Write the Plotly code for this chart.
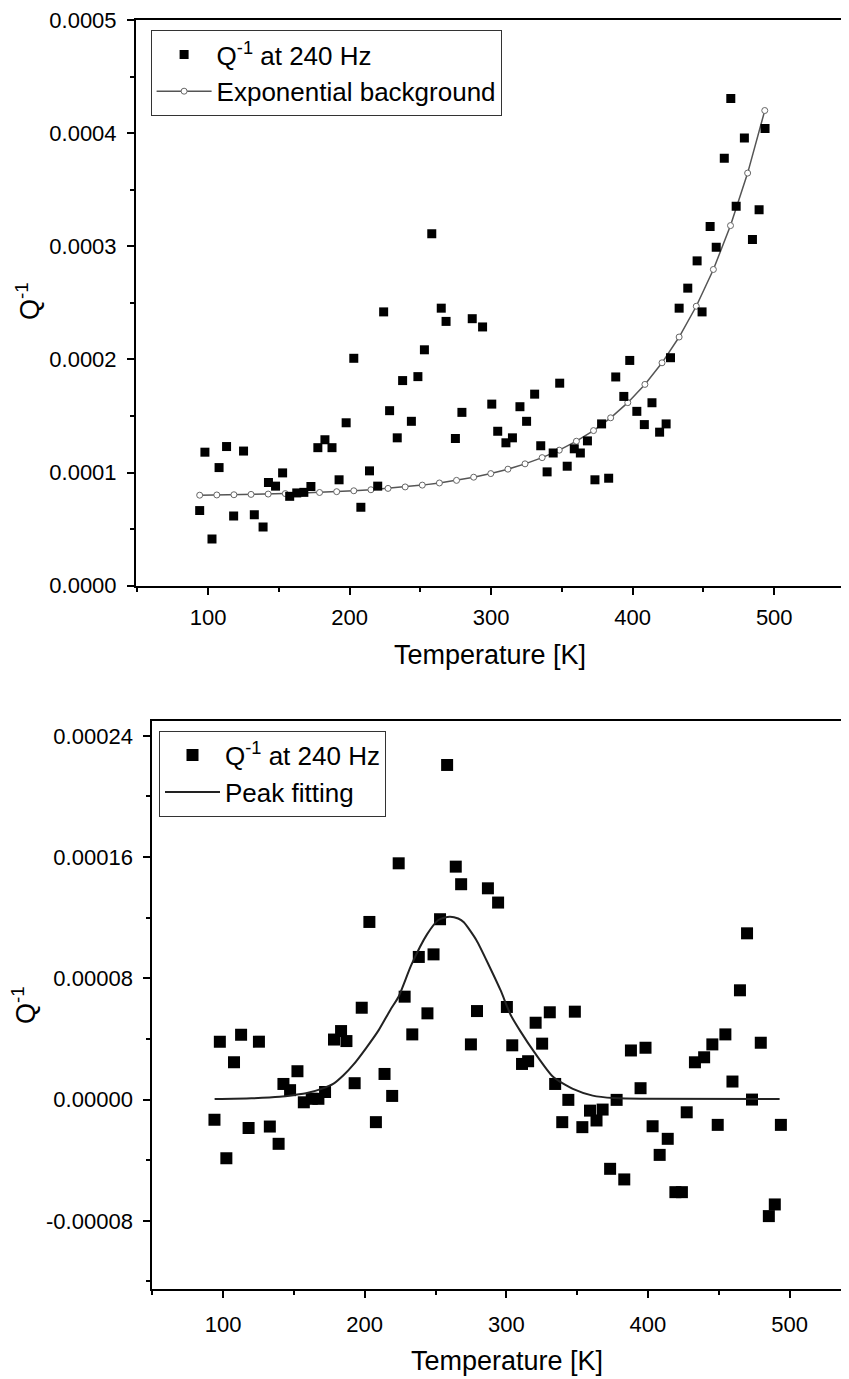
import plotly.graph_objects as go

# ---------------- Top panel data (Q^-1 in units of 1e-4) ----------------
top_T = [94, 97.7, 102.7, 107.7, 113, 118, 125, 132.6, 138.8, 142.6,
         147.6, 152.6, 157.6, 162.6, 167.6, 172.6, 177.5, 182.5, 187.5, 192.5,
         197.5, 202.9, 207.9, 214, 219.8, 224, 228.2, 233.6, 237.4, 243.6,
         248.2, 252.8, 258, 264.7, 268.1, 274.7, 279.3, 286.6, 293.9, 300.4,
         304.6, 310.4, 315, 320.3, 325, 330.7, 335, 339.5, 343.8, 348.4,
         353.7, 358.7, 363, 368, 373.3, 378, 383, 388, 393.7, 397.9,
         402.9, 408.2, 413.6, 419, 423.6, 426.7, 432.8, 438.9, 445.5, 449,
         454.7, 459, 464.7, 469.3, 473.1, 478.9, 484.6, 489.3, 493.5]
top_Q_e4 = [0.664, 1.18, 0.412, 1.044, 1.23, 0.617, 1.19, 0.626, 0.518, 0.912,
            0.88, 0.997, 0.79, 0.82, 0.825, 0.877, 1.22, 1.29, 1.22, 0.936,
            1.44, 2.01, 0.693, 1.015, 0.88, 2.42, 1.547, 1.307, 1.813, 1.453,
            1.848, 2.085, 3.11, 2.453, 2.336, 1.301, 1.532, 2.36, 2.287, 1.605,
            1.365, 1.263, 1.307, 1.582, 1.453, 1.693, 1.237, 1.006, 1.173, 1.79,
            1.056, 1.21, 1.173, 1.28, 0.936, 1.43, 0.95, 1.845, 1.673, 1.991,
            1.541, 1.424, 1.617, 1.357, 1.43, 2.015, 2.453, 2.63, 2.871, 2.42,
            3.175, 2.991, 3.778, 4.307, 3.354, 3.956, 3.061, 3.322, 4.04]

# Exponential background (read at each open circle, units 1e-4)
bg_T = [94.0, 106.1, 118.2, 130.3, 142.4, 154.5, 166.6, 178.7, 190.8, 202.9,
        215.0, 227.1, 239.2, 251.3, 263.4, 275.5, 287.6, 299.7, 311.8, 323.9,
        336.0, 348.1, 360.2, 372.3, 384.4, 396.5, 408.6, 420.7, 432.8, 444.9,
        457.0, 469.1, 481.2, 493.3]
bg_Q_e4 = [0.800, 0.802, 0.804, 0.807, 0.810, 0.814, 0.819, 0.824, 0.831, 0.839,
           0.848, 0.860, 0.873, 0.889, 0.908, 0.931, 0.959, 0.991, 1.030, 1.077,
           1.132, 1.198, 1.277, 1.371, 1.484, 1.618, 1.779, 1.970, 2.198, 2.470,
           2.795, 3.183, 3.647, 4.200]

# ---------------- Bottom panel data (Q^-1 in units of 1e-5) ----------------
bot_T = [93.9, 97.7, 102.3, 107.7, 112.7, 118, 125.3, 133, 139.2, 142.6,
         147.3, 152.5, 157, 162.6, 167.3, 172, 178.3, 183.3, 187.1, 192.9,
         197.9, 203.3, 207.9, 214, 219.4, 224, 228.2, 233.6, 238.2, 244.3,
         248.6, 253.2, 258.2, 264.3, 268.1, 275, 279.3, 287, 294.2, 300.4,
         304.2, 311.1, 315.4, 320.7, 325.3, 330.7, 334.5, 339.5, 343.8, 348.4,
         353.7, 359.1, 363.7, 368, 373.3, 377.9, 383.3, 388, 394.8, 398.3,
         403.3, 408.3, 414, 419.4, 424, 427.4, 433.2, 439.7, 445.5, 449.3,
         454.7, 459.7, 465, 470, 473.5, 479.7, 485.4, 489.6, 493.9]
bot_Q_e5 = [-1.34, 3.82, -3.87, 2.46, 4.27, -1.87, 3.82, -1.78, -2.92, 1.03,
            0.62, 1.87, -0.18, 0.05, 0.05, 0.5, 3.96, 4.52, 3.86, 1.08,
            6.06, 11.72, -1.49, 1.69, 0.24, 15.59, 6.79, 4.3, 9.41, 5.69,
            9.58, 11.9, 22.08, 15.37, 14.21, 3.64, 5.84, 13.94, 13.0, 6.11,
            3.58, 2.35, 2.53, 5.07, 3.69, 5.76, 1.03, -1.49, -0.02, 5.8,
            -1.82, -0.73, -1.38, -0.66, -4.57, -0.02, -5.27, 3.24, 0.75, 3.42,
            -1.76, -3.65, -2.59, -6.11, -6.11, -0.84, 2.46, 2.79, 3.64, -1.67,
            4.3, 1.19, 7.21, 10.97, 0.0, 3.75, -7.69, -6.92, -1.67]

# Peak fitting curve (units 1e-5)
fit_T = [94, 120, 140, 150, 160, 170, 178, 185, 192, 201,
         210, 218, 224, 233, 244, 252, 260, 266, 270, 279,
         288, 296, 303, 310, 320, 333, 347, 361, 376, 400, 493]
fit_Q_e5 = [0.03, 0.08, 0.18, 0.3, 0.45, 0.72, 1.05, 1.6, 2.3, 3.4,
            4.6, 5.9, 6.8, 8.9, 10.9, 11.85, 12.07, 11.95, 11.7, 10.5,
            8.8, 7.2, 5.6, 4.5, 3.1, 1.5, 0.7, 0.26, 0.1, 0.05, 0.03]

# Tick labels
top_y_ticks = [0.0, 0.0001, 0.0002, 0.0003, 0.0004, 0.0005]
top_y_labels = ["0.0000", "0.0001", "0.0002", "0.0003", "0.0004", "0.0005"]
bot_y_ticks = [-0.00008, 0.0, 0.00008, 0.00016, 0.00024]
bot_y_labels = ["-0.00008", "0.00000", "0.00008", "0.00016", "0.00024"]
x_ticks = [100, 200, 300, 400, 500]
x_labels = ["100", "200", "300", "400", "500"]

top_Q = [v * 1e-4 for v in top_Q_e4]
bg_Q = [v * 1e-4 for v in bg_Q_e4]
bot_Q = [v * 1e-5 for v in bot_Q_e5]
fit_Q = [v * 1e-5 for v in fit_Q_e5]

FONT = "Liberation Sans, Arial, sans-serif"
# the page body has an 8 px margin, so the figure starts at (8, 8) in the window
OFF = 8
W, H = 849 - OFF, 1379 - OFF


def px_x(p):
    return (p - OFF) / W


def px_y(p):
    return 1 - (p - OFF) / H


fig = go.Figure()

fig.add_trace(go.Scatter(
    x=bg_T, y=bg_Q, mode="lines+markers", name="Exponential background",
    line=dict(color="#555555", width=1.5),
    marker=dict(symbol="circle", size=6, color="white",
                line=dict(color="#666666", width=1)),
    xaxis="x", yaxis="y", legend="legend", legendrank=2))
fig.add_trace(go.Scatter(
    x=top_T, y=top_Q, mode="markers", name="Q<sup>-1</sup> at 240 Hz",
    marker=dict(symbol="square", size=9, color="black"),
    xaxis="x", yaxis="y", legend="legend", legendrank=1))

fig.add_trace(go.Scatter(
    x=bot_T, y=bot_Q, mode="markers", name="Q<sup>-1</sup> at 240 Hz",
    marker=dict(symbol="square", size=12, color="black"),
    xaxis="x2", yaxis="y2", legend="legend2", legendrank=1))
fig.add_trace(go.Scatter(
    x=fit_T, y=fit_Q, mode="lines", name="Peak fitting",
    line=dict(color="#222222", width=2, shape="spline", smoothing=0.6),
    xaxis="x2", yaxis="y2", legend="legend2", legendrank=2))

axis_common = dict(
    showline=True, linecolor="black", linewidth=2, mirror=True,
    ticks="outside", ticklen=7, tickwidth=1.5, tickcolor="black",
    showgrid=False, zeroline=False, automargin=False,
    ticklabeloverflow="allow",
    tickfont=dict(family=FONT, size=22, color="black"),
)

minor_x = dict(dtick=50, tick0=0, ticks="outside", ticklen=4, tickcolor="black")

legend_common = dict(xanchor="left", yanchor="top",
                     bgcolor="white", bordercolor="#333333", borderwidth=1,
                     font=dict(family=FONT, size=26, color="black"),
                     itemwidth=55, traceorder="normal")

fig.update_layout(
    width=W, height=H,
    margin=dict(l=0, r=0, t=0, b=0),
    paper_bgcolor="white", plot_bgcolor="white",
    font=dict(family=FONT, size=22, color="black"),
    xaxis=dict(domain=[px_x(136), px_x(845)], range=[49, 550],
               anchor="y", tickmode="array", tickvals=x_ticks, ticktext=x_labels,
               minor=minor_x, ticklabelstandoff=4, **axis_common),
    yaxis=dict(domain=[px_y(585.7), px_y(20)], range=[0, 0.0005],
               anchor="x", tickmode="array", tickvals=top_y_ticks, ticktext=top_y_labels,
               minor=dict(dtick=0.00005, tick0=0, ticks="outside", ticklen=4, tickcolor="black"),
               ticklabelstandoff=6, **axis_common),
    xaxis2=dict(domain=[px_x(152.3), 1.0], range=[50, 542],
                anchor="y2", tickmode="array", tickvals=x_ticks, ticktext=x_labels,
                minor=minor_x, ticklabelstandoff=8, **axis_common),
    yaxis2=dict(domain=[px_y(1289), px_y(720.7)], range=[-0.000125, 0.00025],
                anchor="x2", tickmode="array", tickvals=bot_y_ticks, ticktext=bot_y_labels,
                minor=dict(dtick=0.00004, tick0=0, ticks="outside", ticklen=4, tickcolor="black"),
                ticklabelstandoff=6, **axis_common),
    legend=dict(x=px_x(150.6), y=px_y(30), **legend_common),
    legend2=dict(x=px_x(159), y=px_y(730.7), **legend_common),
    showlegend=True,
)

title_font = dict(family=FONT, size=27, color="black")
for txt, xp, yp, ang in [("Temperature [K]", 490, 655, 0),
                         ("Temperature [K]", 507, 1361, 0),
                         ("Q<sup>-1</sup>", 28, 301, -90),
                         ("Q<sup>-1</sup>", 24, 1005, -90)]:
    fig.add_annotation(text=txt, x=px_x(xp), y=px_y(yp), textangle=ang,
                       xref="paper", yref="paper", xanchor="center", yanchor="middle",
                       showarrow=False, font=title_font)

fig.write_html("out.html")
